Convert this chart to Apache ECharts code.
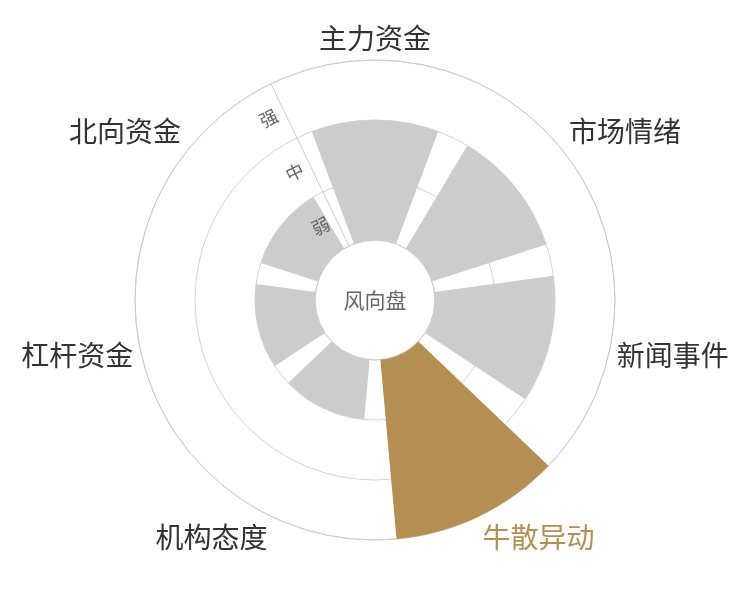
<!DOCTYPE html>
<html><head><meta charset="utf-8">
<script src="https://cdn.jsdelivr.net/npm/echarts@6/dist/echarts.min.js"></script>
<style>html,body{margin:0;padding:0;background:#fff}#c{width:750px;height:600px}</style>
</head><body><div id="c"></div>
<script>
const categories = ['主力资金', '市场情绪', '新闻事件', '牛散异动', '机构态度', '杠杆资金', '北向资金'];
const levels = ['弱', '中', '强'];
const strength = [2, 2, 2, 3, 1, 1, 1];
const highlight = '牛散异动';
const centerTitle = '风向盘';

const GOLD = '#b58f51';
const GRAY = '#cccccc';
const FONT = '"Noto Sans CJK SC", "Noto Sans", sans-serif';
const START = 90 + 180 / categories.length;

const chart = echarts.init(document.getElementById('c'));
chart.setOption({
  backgroundColor: '#fff',
  animation: false,
  textStyle: { fontFamily: FONT },
  title: {
    text: centerTitle,
    left: 'center',
    top: 'middle',
    textStyle: { fontSize: 21, fontWeight: 'normal', color: '#666', fontFamily: FONT }
  },
  polar: [
    { center: ['50%', '50%'], radius: ['20%', '80%'] },
    { center: ['50%', '50%'], radius: ['20%', '80%'] }
  ],
  angleAxis: [{
    polarIndex: 0,
    type: 'category',
    data: categories.map(c => c === highlight ? { value: c, textStyle: { color: GOLD } } : c),
    startAngle: START,
    boundaryGap: true,
    axisLine: { show: true, lineStyle: { color: '#cccccc', width: 1 } },
    axisTick: { show: false },
    splitLine: { show: false },
    axisLabel: { fontSize: 28, color: '#333', margin: 8, fontFamily: FONT }
  }, {
    polarIndex: 1,
    type: 'category',
    data: categories,
    startAngle: START,
    show: false
  }],
  radiusAxis: [{
    polarIndex: 0,
    type: 'value',
    min: 0,
    max: levels.length,
    interval: 0.5,
    axisLine: { show: false },
    axisTick: { show: false },
    axisLabel: { show: false },
    splitLine: { show: true, lineStyle: { color: ['#d4d4d4', 'rgba(0,0,0,0)'], width: 1 } }
  }, {
    polarIndex: 1,
    type: 'value',
    min: 0,
    max: levels.length,
    interval: 0.5,
    z: 5,
    axisLine: { show: true, lineStyle: { color: '#cccccc', width: 1 } },
    axisTick: { show: false },
    splitLine: { show: false },
    axisLabel: {
      rotate: 180 / categories.length,
      margin: 8,
      fontSize: 18,
      color: '#666',
      fontFamily: FONT,
      formatter: v => (Math.abs(v % 1 - 0.5) < 1e-6 ? levels[Math.floor(v)] : '')
    }
  }],
  series: [{
    type: 'bar',
    coordinateSystem: 'polar',
    polarIndex: 0,
    barCategoryGap: '20%',
    z: 2,
    data: strength.map((v, i) => ({
      value: v,
      itemStyle: { color: categories[i] === highlight ? GOLD : GRAY }
    })),
    silent: true
  }]
});
</script>
</body></html>
